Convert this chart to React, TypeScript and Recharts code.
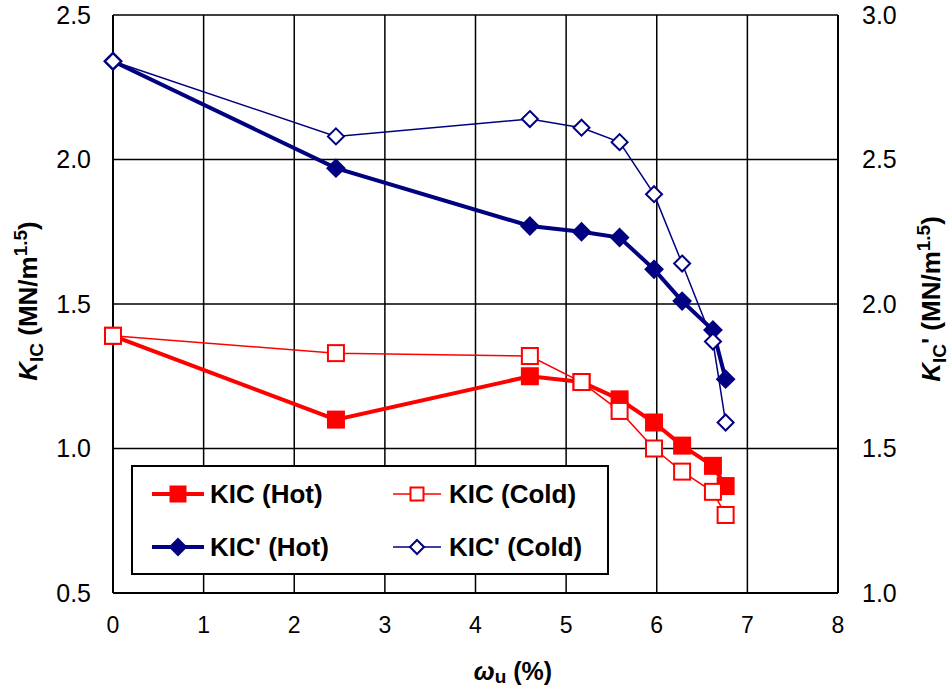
import { CartesianGrid, Line, LineChart, XAxis, YAxis } from "recharts";

const omega = [0, 2.46, 4.6, 5.17, 5.59, 5.97, 6.28, 6.62, 6.76];
const kicHot = [1.39, 1.1, 1.25, 1.23, 1.17, 1.09, 1.01, 0.94, 0.87];
const kicCold = [1.39, 1.33, 1.32, 1.23, 1.13, 1.0, 0.92, 0.85, 0.77];
const kicpHot = [2.84, 2.47, 2.27, 2.25, 2.23, 2.12, 2.01, 1.91, 1.74];
const kicpCold = [2.84, 2.58, 2.64, 2.61, 2.56, 2.38, 2.14, 1.87, 1.59];

const xTicks = [0, 1, 2, 3, 4, 5, 6, 7, 8];
const leftTicks = [0.5, 1.0, 1.5, 2.0, 2.5];
const rightTicks = [1.0, 1.5, 2.0, 2.5, 3.0];

const RED = "#ff0000";
const NAVY = "#000080";
const FONT = "'Liberation Sans', Arial, sans-serif";

const data = omega.map((w, i) => ({
    w,
    kicHot: kicHot[i],
    kicCold: kicCold[i],
    kicpHot: kicpHot[i],
    kicpCold: kicpCold[i],
}));

function Square({ cx, cy, size, fill, stroke }: any) {
    const h = size / 2;
    return <rect x={cx - h} y={cy - h} width={size} height={size} fill={fill} stroke={stroke} strokeWidth={2} />;
}

function Diamond({ cx, cy, size, fill, stroke }: any) {
    const h = size / 2;
    return <polygon points={`${cx},${cy - h} ${cx + h},${cy} ${cx},${cy + h} ${cx - h},${cy}`} fill={fill} stroke={stroke} strokeWidth={2} />;
}

const legendItems = [
    { name: "KIC (Hot)", color: RED, width: 4, marker: "square", filled: true },
    { name: "KIC (Cold)", color: RED, width: 1.5, marker: "square", filled: false },
    { name: "KIC' (Hot)", color: NAVY, width: 4, marker: "diamond", filled: true },
    { name: "KIC' (Cold)", color: NAVY, width: 1.5, marker: "diamond", filled: false },
];

// legend box sits on top of the plot, like the original
function LegendBox() {
    return <div style={{
        position: "absolute", left: 131, top: 465,
        width: 474, height: 106, border: "2px solid #000", background: "#fff",
        display: "grid", gridTemplateColumns: "260px 214px", gridTemplateRows: "54px 52px",
        fontFamily: FONT, fontWeight: "bold", fontSize: 26, color: "#000",
    }}>
        {legendItems.map((it, i) => {
            const len = i % 2 === 0 ? 52 : 48;
            return <div key={it.name} style={{ display: "flex", alignItems: "center", paddingLeft: i % 2 === 0 ? 19 : 0 }}>
                <svg width={len} height={22} style={{ marginRight: i % 2 === 0 ? 6 : 8 }}>
                    <line x1={0} y1={11} x2={len} y2={11} stroke={it.color} strokeWidth={it.width} />
                    {it.marker === "square"
                        ? <Square cx={len / 2} cy={11} size={it.filled ? 15 : 13} fill={it.filled ? it.color : "#fff"} stroke={it.color} />
                        : <Diamond cx={len / 2} cy={11} size={it.filled ? 16 : 14} fill={it.filled ? it.color : "#fff"} stroke={it.color} />}
                </svg>
                <span>{it.name}</span>
            </div>;
        })}
    </div>;
}

function LeftTitle() {
    return <text x={0} y={0} transform="translate(37,301) rotate(-90)" textAnchor="middle" fontFamily={FONT} fontWeight="bold" fontSize={26} fill="#000">
        <tspan fontStyle="italic">K</tspan>
        <tspan fontSize={19} dy={6}>IC</tspan>
        <tspan dy={-6}> (MN/m</tspan>
        <tspan fontSize={19} dy={-10}>1.5</tspan>
        <tspan dy={10}>)</tspan>
    </text>;
}

function RightTitle() {
    return <text x={0} y={0} transform="translate(940,299) rotate(-90)" textAnchor="middle" fontFamily={FONT} fontWeight="bold" fontSize={26} fill="#000">
        <tspan fontStyle="italic">K</tspan>
        <tspan fontSize={19} dy={6}>IC</tspan>
        <tspan dy={-6}>' (MN/m</tspan>
        <tspan fontSize={19} dy={-10}>1.5</tspan>
        <tspan dy={10}>)</tspan>
    </text>;
}

function BottomTitle() {
    return <text x={513} y={680} textAnchor="middle" fontFamily={FONT} fontWeight="bold" fontSize={25} fill="#000">
        <tspan fontStyle="italic">ω</tspan>
        <tspan fontSize={19} dy={3}>u</tspan>
        <tspan dy={-3}> (%)</tspan>
    </text>;
}

const App = () => {
    return <div style={{ position: "absolute", left: 0, top: 0 }}>
        <LineChart width={949} height={690} data={data} margin={{ top: 15, right: 0, bottom: 0, left: 0 }}>
            <CartesianGrid yAxisId="left" stroke="#000" strokeWidth={1.5} />
            <XAxis dataKey="w" type="number" domain={[0, 8]} ticks={xTicks} height={97}
                axisLine={{ stroke: "#000", strokeWidth: 2 }} tickLine={false} tickSize={6} tickMargin={18}
                tick={{ fill: "#000", fontSize: 23, fontFamily: FONT }}
                label={<BottomTitle />} />
            <YAxis yAxisId="left" orientation="left" domain={[0.5, 2.5]} ticks={leftTicks} width={113}
                tickFormatter={(v: number) => v.toFixed(1)}
                axisLine={{ stroke: "#000", strokeWidth: 2 }} tickLine={false} tickSize={6} tickMargin={16}
                tick={{ fill: "#000", fontSize: 25, fontFamily: FONT }}
                label={<LeftTitle />} />
            <YAxis yAxisId="right" orientation="right" domain={[1, 3]} ticks={rightTicks} width={111}
                tickFormatter={(v: number) => v.toFixed(1)}
                axisLine={{ stroke: "#000", strokeWidth: 2 }} tickLine={false} tickSize={6} tickMargin={18}
                tick={{ fill: "#000", fontSize: 25, fontFamily: FONT }}
                label={<RightTitle />} />
            <Line yAxisId="left" dataKey="kicHot" stroke={RED} strokeWidth={4} isAnimationActive={false}
                dot={(p: any) => <Square key={`kh${p.index}`} cx={p.cx} cy={p.cy} size={16} fill={RED} stroke={RED} />} />
            <Line yAxisId="left" dataKey="kicCold" stroke={RED} strokeWidth={1.5} isAnimationActive={false}
                dot={(p: any) => <Square key={`kc${p.index}`} cx={p.cx} cy={p.cy} size={16} fill="#fff" stroke={RED} />} />
            <Line yAxisId="right" dataKey="kicpHot" stroke={NAVY} strokeWidth={4} isAnimationActive={false}
                dot={(p: any) => <Diamond key={`ph${p.index}`} cx={p.cx} cy={p.cy} size={17} fill={NAVY} stroke={NAVY} />} />
            <Line yAxisId="right" dataKey="kicpCold" stroke={NAVY} strokeWidth={1.5} isAnimationActive={false}
                dot={(p: any) => <Diamond key={`pc${p.index}`} cx={p.cx} cy={p.cy} size={16} fill="#fff" stroke={NAVY} />} />
        </LineChart>
        <LegendBox />
    </div>;
}

export default App;
